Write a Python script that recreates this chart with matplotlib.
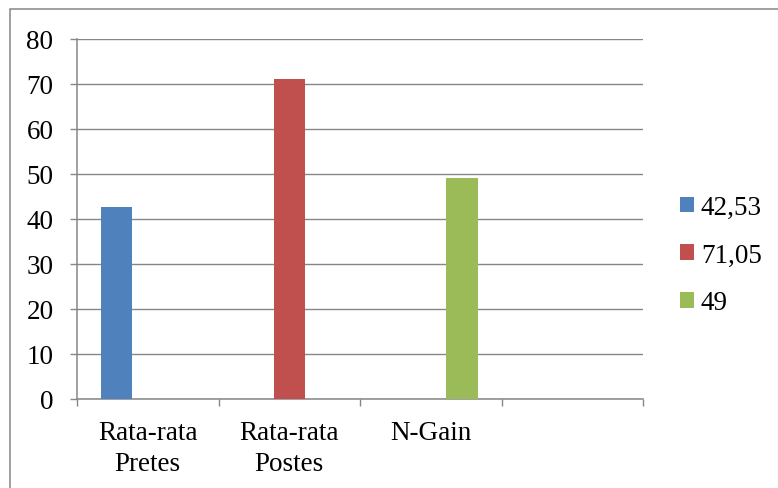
import matplotlib
matplotlib.use('Agg')
import matplotlib.pyplot as plt
from matplotlib.patches import Rectangle

categories = ['Rata-rata\nPretes', 'Rata-rata\nPostes', 'N-Gain', '']
series_labels = ['42,53', '71,05', '49']
series_values = [42.53, 71.05, 49.0]
series_cat = [0, 1, 2]  # each series has a value only in its own category
colors = ['#4F81BD', '#C0504D', '#9BBB59']
yticks = [0, 10, 20, 30, 40, 50, 60, 70, 80]

plt.rcParams['font.family'] = ['Liberation Serif', 'DejaVu Serif']
grey = '#868686'
fs = 19.5

fig = plt.figure(figsize=(7.78, 4.89), dpi=100)
# outer chart frame (cut off at right and bottom like the original)
fig.patches.append(Rectangle((10 / 778, -0.05), 1.0, 1 - 10 / 489 + 0.05,
                             transform=fig.transFigure, fill=False,
                             edgecolor=grey, linewidth=1.1))

ax = fig.add_axes([77 / 778, 1 - 400 / 489, (643 - 77) / 778, (400 - 39.5) / 489])

n = len(series_values)
width = 1 / (n + 1.5)
for i in range(n):
    off = (i - (n - 1) / 2) * width
    ax.bar(series_cat[i] + off, series_values[i], width=width,
           color=colors[i], label=series_labels[i], zorder=3)

ax.set_xlim(-0.5, len(categories) - 0.5)
ax.set_ylim(0, 80)
ax.set_yticks(yticks)
ax.set_yticklabels([str(v) for v in yticks], fontsize=fs)
ax.yaxis.grid(True, color=grey, linewidth=1.0, zorder=0)

ax.set_xticks([k - 0.5 for k in range(len(categories) + 1)])
ax.set_xticklabels([])
ax.set_xticks(range(len(categories)), minor=True)
ax.set_xticklabels(categories, minor=True, fontsize=fs, linespacing=1.3)
ax.tick_params(axis='x', which='minor', length=0, pad=15)
ax.tick_params(axis='x', which='major', length=5, width=1.0, color=grey, direction='out')
ax.tick_params(axis='y', length=5, width=1.0, color=grey, direction='out', pad=12)

for s in ['top', 'right']:
    ax.spines[s].set_visible(False)
for s in ['left', 'bottom']:
    ax.spines[s].set_color(grey)
    ax.spines[s].set_linewidth(1.1)

leg = ax.legend(loc='upper left', bbox_to_anchor=(680 / 778, 1 - 196 / 489),
                bbox_transform=fig.transFigure, frameon=False, fontsize=fs,
                handlelength=0.52, handleheight=0.52, handletextpad=0.25,
                labelspacing=0.84, borderpad=0, borderaxespad=0)

fig.savefig('out.png', dpi=100)
